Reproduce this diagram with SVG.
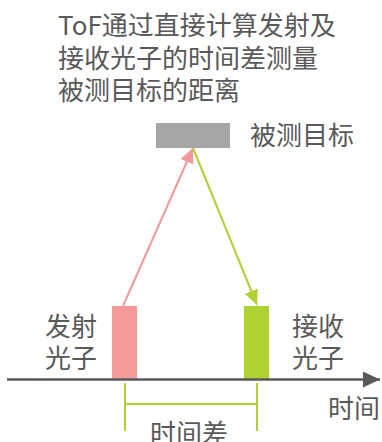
<svg xmlns="http://www.w3.org/2000/svg" width="382" height="442" viewBox="0 0 382 442">
<style>
text{font-family:"Noto Sans CJK SC","Microsoft YaHei",sans-serif;font-size:26px;fill:#595959}
.pk{stroke:#f4999a;stroke-width:2;fill:none}
.gr{stroke:#b0d135;stroke-width:2;fill:none}
</style>
<defs>
<marker id="ahp" markerUnits="userSpaceOnUse" markerWidth="16" markerHeight="14" refX="15" refY="7" orient="auto"><path d="M0,0 L15,7 L0,14 Z" fill="#f4999a"/></marker>
<marker id="ahg" markerUnits="userSpaceOnUse" markerWidth="16" markerHeight="14" refX="15" refY="7" orient="auto"><path d="M0,0 L15,7 L0,14 Z" fill="#b0d135"/></marker>
<marker id="ahx" markerUnits="userSpaceOnUse" markerWidth="18" markerHeight="16" refX="17" refY="8" orient="auto"><path d="M0,0 L17,8 L0,16 Z" fill="#595959"/></marker>
</defs>
<g id="title">
<text x="58" y="35">ToF通过直接计算发射及<tspan x="58" dy="33">接收光子的时间差测量</tspan><tspan x="58" dy="32">被测目标的距离</tspan></text>
</g>
<g id="target">
<rect x="156" y="123" width="74" height="25" fill="#a6a6a6"/>
<text x="250" y="145">被测目标</text>
</g>
<g id="emit">
<rect x="112" y="306" width="25" height="74" fill="#f4999a"/>
<text x="45" y="336">发射<tspan x="45" dy="32">光子</tspan></text>
</g>
<g id="receive">
<rect x="244" y="306" width="25" height="74" fill="#b0d132"/>
<text x="292" y="336">接收<tspan x="292" dy="32">光子</tspan></text>
</g>
<g id="timediff">
<text x="150" y="443">时间差</text>
</g>
<g id="timelabel">
<text x="328" y="418">时间</text>
</g>
<g id="connectors">
<line class="pk" x1="123" y1="306" x2="193" y2="148" marker-end="url(#ahp)"/>
<line class="gr" x1="193" y1="148" x2="257" y2="305" marker-end="url(#ahg)"/>
<line x1="7" y1="379.5" x2="380" y2="379.5" stroke="#595959" stroke-width="2.7" marker-end="url(#ahx)"/>
<line class="gr" x1="125" y1="383" x2="125" y2="431"/>
<line class="gr" x1="257" y1="383" x2="257" y2="431"/>
<line class="gr" x1="125" y1="404" x2="257" y2="404"/>
</g>
</svg>
